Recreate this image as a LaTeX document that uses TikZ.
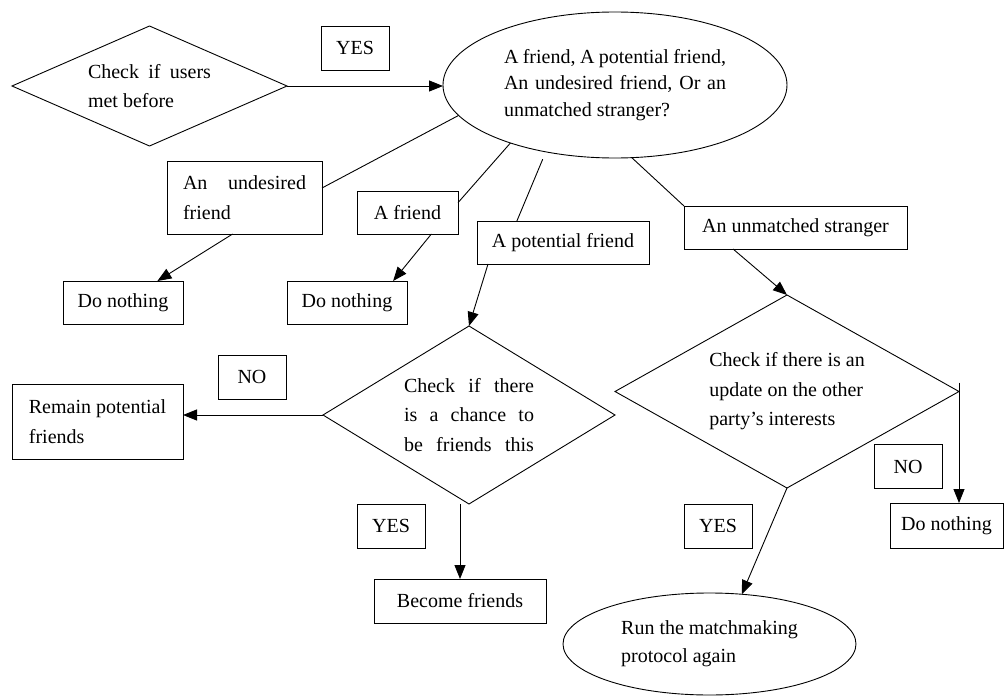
\documentclass[tikz,border=0pt]{standalone}
\usepackage{fontspec}
\setmainfont{Liberation Serif}
\usetikzlibrary{shapes.geometric,arrows.meta}
\begin{document}
\begin{tikzpicture}[x=1pt,y=-1pt,
  every node/.style={font=\fontsize{20}{29.5}\selectfont, inner sep=0pt, outer sep=0pt, align=left},
  box/.style={draw, rectangle, line width=0.9pt},
  tag/.style={box, minimum width=68pt, minimum height=44pt},
  decision/.style={draw, diamond, line width=0.9pt},
  oval/.style={draw, ellipse, line width=0.9pt},
  link/.style={line width=0.9pt},
  flow/.style={link, -{Triangle[length=14pt,width=11pt]}},
]
\useasboundingbox (0,0) rectangle (1005,696);

% top row: first check and the classification question
\node[decision, minimum width=275pt, minimum height=120pt, aspect=2.29] (meet) at (149.5,86)
  {\makebox[123pt][s]{Check if users}\\met before};
\node[oval, minimum width=344pt, minimum height=146pt, font=\fontsize{20}{26.5}\selectfont] (kind) at (615,85)
  {\makebox[222pt][s]{A friend, A potential friend,}\\\makebox[222pt][s]{An undesired friend, Or an}\\unmatched stranger?};
\node[tag] (yes1) at (355,48) {YES};

% the four categories
\node[box, minimum width=155pt, minimum height=73pt] (undes) at (244.5,197.5)
  {\makebox[123pt][s]{An undesired}\\friend};
\node[box, minimum width=101pt, minimum height=43pt] (friend) at (407.5,212.5) {A friend};
\node[box, minimum width=172pt, minimum height=43pt] (potent) at (563,242.5) {A potential friend};
\node[box, minimum width=223pt, minimum height=43pt] (stranger) at (795.5,227.5) {An unmatched stranger};

% outcomes
\node[box, minimum width=120pt, minimum height=43pt] (none1) at (123,302.5) {Do nothing};
\node[box, minimum width=120pt, minimum height=43pt] (none2) at (347,302.5) {Do nothing};

\node[decision, minimum width=292pt, minimum height=178pt, aspect=1.64] (chance) at (469,415)
  {\makebox[130pt][s]{Check if there}\\\makebox[130pt][s]{is a chance to}\\\makebox[130pt][s]{be friends this}};
\node[box, minimum width=171pt, minimum height=75pt] (remain) at (97.5,421.5) {Remain potential\\friends};
\node[tag] (no1) at (252,377) {NO};
\node[tag] (yes2) at (391,526) {YES};
\node[box, minimum width=172pt, minimum height=44pt] (become) at (460,601) {Become friends};

\node[decision, minimum width=344pt, minimum height=193pt, aspect=1.78] (update) at (787,391.5)
  {Check if there is an\\update on the other\\party’s interests};
\node[tag] (no3) at (908,466.5) {NO};
\node[tag] (yes3) at (718,526) {YES};
\node[box, minimum width=113pt, minimum height=45pt] (none3) at (946.5,525.5) {Do nothing};
\node[oval, minimum width=293pt, minimum height=102pt, font=\fontsize{20}{28}\selectfont] (rerun) at (709.5,644)
  {Run the matchmaking\\protocol again};

% connectors
\draw[flow] (meet.east) -- (meet.east -| kind.west);
\draw[link] (undes.7) -- (kind.191.5);
\draw[link] (friend.11.7) -- (kind.209.7);
\draw[link, shorten <=8pt] (kind.224.2) -- (potent.155.9);
\draw[link] (kind.283.1) -- (stranger.north west);
\draw[flow] (undes.252.5) -- (none1.32.3);
\draw[flow] (friend.318.7) -- (none2.25.05);
\draw[flow] (potent.196.85) -- (chance.north);
\draw[flow] (stranger.199.56) -- (update.north);
\draw[flow] (chance.west) -- (chance.west -| remain.east);
\draw[flow] (become.north |- chance.south) -- (become.north);
\draw[flow] ([yshift=9pt]update.east) -- (update.east |- none3.north);
\draw[flow] (update.south) -- (rerun.57);
\end{tikzpicture}
\end{document}
